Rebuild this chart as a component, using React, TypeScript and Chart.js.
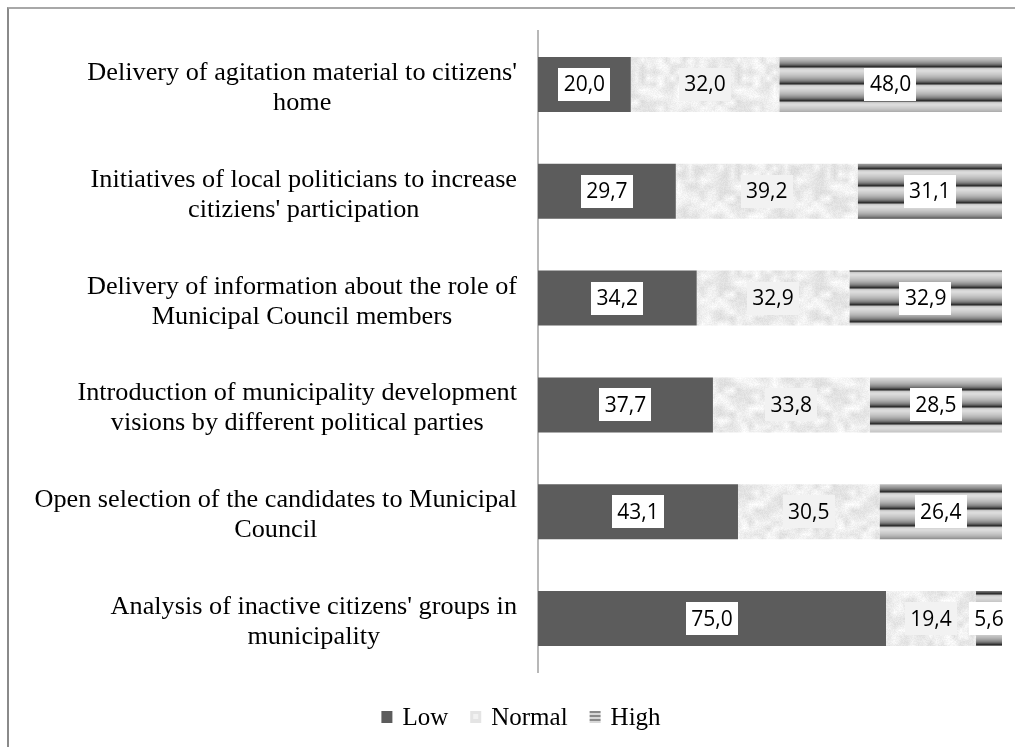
import React, { useEffect, useRef } from "react";
import { Chart, registerables } from "chart.js";

Chart.register(...registerables);

const categories: string[][] = [
  ["Delivery of agitation material to citizens'", "home"],
  ["Initiatives of local politicians to increase", "citiziens' participation"],
  ["Delivery of information about the role of", "Municipal Council members"],
  ["Introduction of municipality development", "visions by different political parties"],
  ["Open selection of the candidates to Municipal", "Council"],
  ["Analysis of inactive citizens' groups in", "municipality"],
];

const lowValues = [20.0, 29.7, 34.2, 37.7, 43.1, 75.0];
const normalValues = [32.0, 39.2, 32.9, 33.8, 30.5, 19.4];
const highValues = [48.0, 31.1, 32.9, 28.5, 26.4, 5.6];
const seriesNames = ["Low", "Normal", "High"];

const W = 1015;
const H = 747;

function hash(n: number): number {
  const x = Math.sin(n * 127.1 + 311.7) * 43758.5453;
  return x - Math.floor(x);
}

function makeNoisePattern(ctx: CanvasRenderingContext2D): CanvasPattern | string {
  const size = 96;
  const c = document.createElement("canvas");
  c.width = size;
  c.height = size;
  const g = c.getContext("2d");
  if (!g) return "#e8e8e8";
  const img = g.createImageData(size, size);
  const cell = 6;
  const cells = size / cell;
  const coarse = (cx: number, cy: number) =>
    hash(((cx + cells) % cells) * 31 + ((cy + cells) % cells) * 977 + 5);
  for (let y = 0; y < size; y++) {
    for (let x = 0; x < size; x++) {
      const fx = x / cell;
      const fy = y / cell;
      const x0 = Math.floor(fx);
      const y0 = Math.floor(fy);
      const tx = fx - x0;
      const ty = fy - y0;
      const a = coarse(x0, y0);
      const b = coarse(x0 + 1, y0);
      const cc = coarse(x0, y0 + 1);
      const d = coarse(x0 + 1, y0 + 1);
      const v =
        a * (1 - tx) * (1 - ty) + b * tx * (1 - ty) + cc * (1 - tx) * ty + d * tx * ty;
      const fine = hash(x * 13 + y * 7919 + 17);
      const val = Math.round(220 + v * 32 + (fine - 0.5) * 12);
      const i = (y * size + x) * 4;
      img.data[i] = val;
      img.data[i + 1] = val;
      img.data[i + 2] = val;
      img.data[i + 3] = 255;
    }
  }
  g.putImageData(img, 0, 0);
  return ctx.createPattern(c, "repeat") || "#e8e8e8";
}

function makeStripePattern(ctx: CanvasRenderingContext2D): CanvasPattern | string {
  const rows = [200, 214, 220, 218, 212, 206, 200, 192, 184, 174, 162, 148, 132, 110, 80, 48, 110];
  const c = document.createElement("canvas");
  c.width = 4;
  c.height = rows.length;
  const g = c.getContext("2d");
  if (!g) return "#999";
  rows.forEach((v, i) => {
    g.fillStyle = `rgb(${v},${v},${v})`;
    g.fillRect(0, i, 4, 1);
  });
  return ctx.createPattern(c, "repeat") || "#999";
}

const fmt = (v: number) => v.toFixed(1).replace(".", ",");

export default function App() {
  const ref = useRef<HTMLCanvasElement | null>(null);

  useEffect(() => {
    const canvas = ref.current;
    if (!canvas) return;
    const ctx = canvas.getContext("2d");
    if (!ctx) return;
    const lowFill = "#5c5c5c";
    const normalFill = makeNoisePattern(ctx);
    const highFill = makeStripePattern(ctx);

    const labelPlugin = {
      id: "valueLabels",
      afterDatasetsDraw(chart: any) {
        const c = chart.ctx as CanvasRenderingContext2D;
        c.save();
        c.font = '21px "Open Sans"';
        c.textAlign = "center";
        c.textBaseline = "middle";
        chart.data.datasets.forEach((ds: any, di: number) => {
          const meta = chart.getDatasetMeta(di);
          meta.data.forEach((el: any, i: number) => {
            const v = ds.data[i] as number;
            const cx = (el.x + el.base) / 2;
            const cy = el.y;
            const t = fmt(v);
            const tw = c.measureText(t).width;
            const bw = tw + 11;
            const bh = 33;
            c.fillStyle = di === 1 ? "#f2f2f2" : "#ffffff";
            c.fillRect(Math.round(cx - bw / 2), Math.round(cy - bh / 2), Math.round(bw), bh);
            c.fillStyle = "#000000";
            c.fillText(t, cx, cy + 1);
          });
        });
        c.restore();
      },
      afterDraw(chart: any) {
        const c = chart.ctx as CanvasRenderingContext2D;
        // category labels: block right-aligned, lines centred within block
        c.save();
        c.font = '25px "Liberation Serif"';
        c.fillStyle = "#000000";
        c.textAlign = "center";
        c.textBaseline = "middle";
        const sx = 1.05;
        const lh = 30;
        const yScale = chart.scales.y;
        categories.forEach((lines, i) => {
          const yc = yScale.getPixelForValue(i) + 4;
          const widest = Math.max(...lines.map((l) => c.measureText(l).width)) * sx;
          const cx = 517 - widest / 2;
          lines.forEach((l, j) => {
            const ly = yc + (j - (lines.length - 1) / 2) * lh;
            c.save();
            c.translate(cx, ly);
            c.scale(sx, 1);
            c.fillText(l, 0, 0);
            c.restore();
          });
        });
        c.restore();

        // legend
        c.save();
        c.font = '25px "Liberation Serif"';
        c.textBaseline = "middle";
        c.textAlign = "left";
        const sq = 11;
        const gapIn = 10;
        const gapOut = 22;
        const widths = seriesNames.map((n) => sq + gapIn + c.measureText(n).width);
        const total = widths.reduce((a, b) => a + b, 0) + gapOut * (seriesNames.length - 1);
        let x = 521 - total / 2;
        const y = 717;
        seriesNames.forEach((n, i) => {
          const top = y - 6;
          if (i === 0) {
            c.fillStyle = "#5c5c5c";
            c.fillRect(x, top, sq, sq + 1);
          } else if (i === 1) {
            c.fillStyle = "#e4e4e4";
            c.fillRect(x, top, sq, sq + 1);
            c.fillStyle = "#f2f2f2";
            c.fillRect(x + 3, top + 3, 5, 5);
          } else {
            for (let k = 0; k < 6; k++) {
              c.fillStyle = k % 2 === 0 ? "#8a8a8a" : "#d8d8d8";
              c.fillRect(x, top + k * 2, sq, 2);
            }
          }
          c.fillStyle = "#000000";
          c.fillText(n, x + sq + gapIn, y + 1);
          x += widths[i] + gapOut;
        });
        c.restore();
      },
    };

    const chart = new Chart(ctx, {
      type: "bar",
      data: {
        labels: categories,
        datasets: [
          { label: seriesNames[0], data: lowValues, backgroundColor: lowFill as any },
          { label: seriesNames[1], data: normalValues, backgroundColor: normalFill as any },
          { label: seriesNames[2], data: highValues, backgroundColor: highFill as any },
        ],
      },
      options: {
        indexAxis: "y",
        responsive: false,
        animation: false,
        devicePixelRatio: 1,
        layout: { padding: { top: 31, right: 13, bottom: 75, left: 0 } },
        datasets: {
          bar: { categoryPercentage: 1, barPercentage: 0.515, borderWidth: 0 },
        } as any,
        scales: {
          x: { stacked: true, min: 0, max: 100, display: false },
          y: {
            stacked: true,
            grid: { display: false, drawTicks: false },
            border: { display: true, color: "#b8b8b8", width: 2 },
            ticks: { display: false },
            afterFit: (scale: any) => {
              scale.width = 538;
            },
          },
        },
        plugins: {
          legend: { display: false },
          tooltip: { enabled: false },
        },
      },
      plugins: [labelPlugin],
    });
    return () => chart.destroy();
  }, []);

  return (
    <div style={{ position: "absolute", left: 0, top: 0, width: W, height: H, background: "#ffffff" }}>
      <div
        style={{
          position: "absolute",
          left: 7,
          top: 7,
          width: W - 7,
          height: H - 7,
          borderLeft: "2px solid #8a8a8a",
          borderTop: "2px solid #a8a8a8",
          boxSizing: "border-box",
        }}
      />
      <canvas ref={ref} width={W} height={H} style={{ position: "absolute", left: 0, top: 0 }} />
    </div>
  );
}
